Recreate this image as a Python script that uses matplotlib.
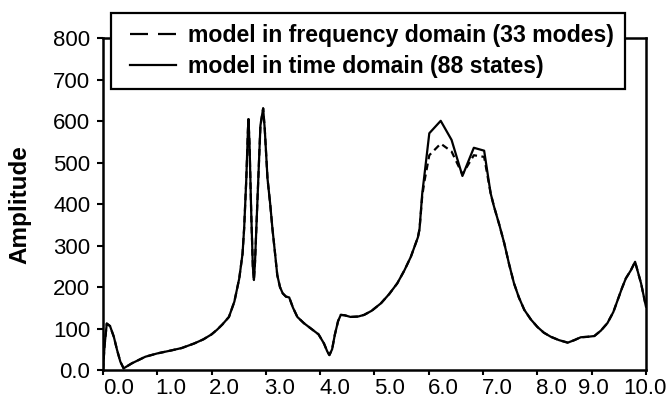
import matplotlib
matplotlib.use("Agg")
import matplotlib.pyplot as plt
from matplotlib.lines import Line2D
from matplotlib.legend_handler import HandlerLine2D

plt.rcParams['font.family'] = ['Liberation Sans', 'DejaVu Sans']

# Frequency axis (tick units) and amplitude of the two models
freq = [0.0, 0.03, 0.07, 0.13, 0.20, 0.26, 0.32, 0.38, 0.53, 0.78, 1.0, 1.25,
        1.45, 1.68, 1.85, 2.0, 2.1, 2.2, 2.32, 2.42, 2.51, 2.57, 2.60, 2.64,
        2.67, 2.68, 2.70, 2.73, 2.76, 2.78, 2.80, 2.845, 2.90, 2.95, 2.98,
        3.03, 3.08, 3.12, 3.17, 3.21, 3.26, 3.31, 3.37, 3.43, 3.50, 3.58, 3.70,
        3.85, 3.97, 4.07, 4.13, 4.17, 4.22, 4.27, 4.33, 4.38, 4.45, 4.56, 4.70,
        4.81, 4.95, 5.12, 5.27, 5.42, 5.55, 5.67, 5.80, 5.83, 5.88, 5.92, 6.01,
        6.22, 6.42, 6.62, 6.83, 7.02, 7.10, 7.14, 7.20, 7.30, 7.39, 7.48, 7.57,
        7.66, 7.76, 7.88, 8.00, 8.12, 8.25, 8.40, 8.56, 8.68, 8.80, 8.92, 9.05,
        9.17, 9.29, 9.40, 9.48, 9.56, 9.63, 9.72, 9.80, 9.91, 10.0]

amp_time = [0, 60, 112, 106, 80, 48, 20, 4, 16, 32, 40, 47,
            53, 64, 74, 86, 97, 110, 128, 165, 221, 280, 342, 462,
            580, 605, 540, 380, 250, 217, 260, 410, 590, 631, 580,
            462, 400, 342, 280, 229, 200, 185, 177, 175, 150, 128, 113,
            98, 86, 64, 45, 36, 50, 85, 118, 133, 132, 128, 129,
            133, 143, 161, 183, 209, 240, 273, 320, 340, 426, 470, 571,
            601, 555, 468, 536, 529, 460, 426, 395, 350, 306, 255, 209,
            175, 145, 122, 104, 90, 80, 72, 66, 72, 79, 80, 82,
            95, 113, 140, 169, 198, 221, 240, 261, 209, 153]

amp_freq = [0, 60, 112, 106, 80, 48, 20, 4, 16, 32, 40, 47,
            53, 64, 74, 86, 97, 110, 128, 165, 221, 280, 342, 462,
            580, 605, 540, 380, 250, 217, 260, 410, 590, 631, 580,
            462, 400, 342, 280, 229, 200, 185, 177, 175, 150, 128, 113,
            98, 86, 64, 45, 36, 50, 85, 118, 133, 132, 128, 129,
            133, 143, 161, 183, 209, 240, 273, 320, 340, 420, 455, 518,
            546, 527, 472, 518, 514, 455, 426, 395, 350, 306, 255, 209,
            175, 145, 122, 104, 90, 80, 72, 66, 72, 79, 80, 82,
            95, 113, 140, 169, 198, 221, 240, 261, 209, 153]

x_ticks = [0, 1, 2, 3, 4, 5, 6, 7, 8, 9, 10]
x_labels = ["0.0", "1.0", "2.0", "3.0", "4.0", "5.0",
            "6.0", "7.0", "8.0", "9.0", "10.0"]
y_ticks = [0, 100, 200, 300, 400, 500, 600, 700, 800]
y_labels = ["0.0", "100", "200", "300", "400", "500", "600", "700", "800"]

# horizontal placement of the x tick labels relative to their ticks
label_shift = [0.295, 0.247, 0.243, 0.256, 0.269, 0.27, 0.265, 0.267,
               0.263, 0.03, -0.02]

fig = plt.figure(figsize=(6.7, 4.05), dpi=100)
ax = fig.add_axes([0.1537, 0.0864, 0.8104, 0.819])

ax.plot(freq, amp_freq, color='black', lw=1.6, ls=(0, (3, 2)))
line_time, = ax.plot(freq, amp_time, color='black', lw=1.6)

ax.set_xlim(0, 10)
ax.set_ylim(0, 800)

for s in ax.spines.values():
    s.set_linewidth(1.8)
    s.set_color('black')

ax.set_xticks(x_ticks)
ax.set_xticklabels([])
ax.set_xticks([t + d for t, d in zip(x_ticks, label_shift)], minor=True)
ax.set_xticklabels(x_labels, minor=True)
ax.tick_params(axis='x', which='major', direction='out', length=3.5, width=1.5)
ax.tick_params(axis='x', which='minor', length=0, pad=6, labelsize=16)

ax.set_yticks(y_ticks)
ax.set_yticklabels(y_labels)
ax.tick_params(axis='y', direction='out', length=4, width=1.5, pad=5,
               labelsize=16)

ax.set_ylabel('Amplitude', fontsize=17.5, fontweight='bold', labelpad=16)

# legend key for the dashed model uses a longer dash
key_freq = Line2D([], [], color='black', lw=1.6, ls=(0, (8.1, 4.5)))
handler = HandlerLine2D(xpad=0.34)
leg = ax.legend(handles=[key_freq, line_time],
                labels=['model in frequency domain (33 modes)',
                        'model in time domain (88 states)'],
                handler_map={key_freq: handler, line_time: handler},
                loc='upper left', bbox_to_anchor=(0.1657, 0.968),
                bbox_transform=fig.transFigure, borderaxespad=0,
                prop={'size': 16.6, 'weight': 'bold'},
                frameon=True, fancybox=False, framealpha=1,
                edgecolor='black', borderpad=0.48, handlelength=2.36,
                handletextpad=0.5, labelspacing=0.35)
leg.get_frame().set_linewidth(1.6)

fig.savefig('out.png', dpi=100)
